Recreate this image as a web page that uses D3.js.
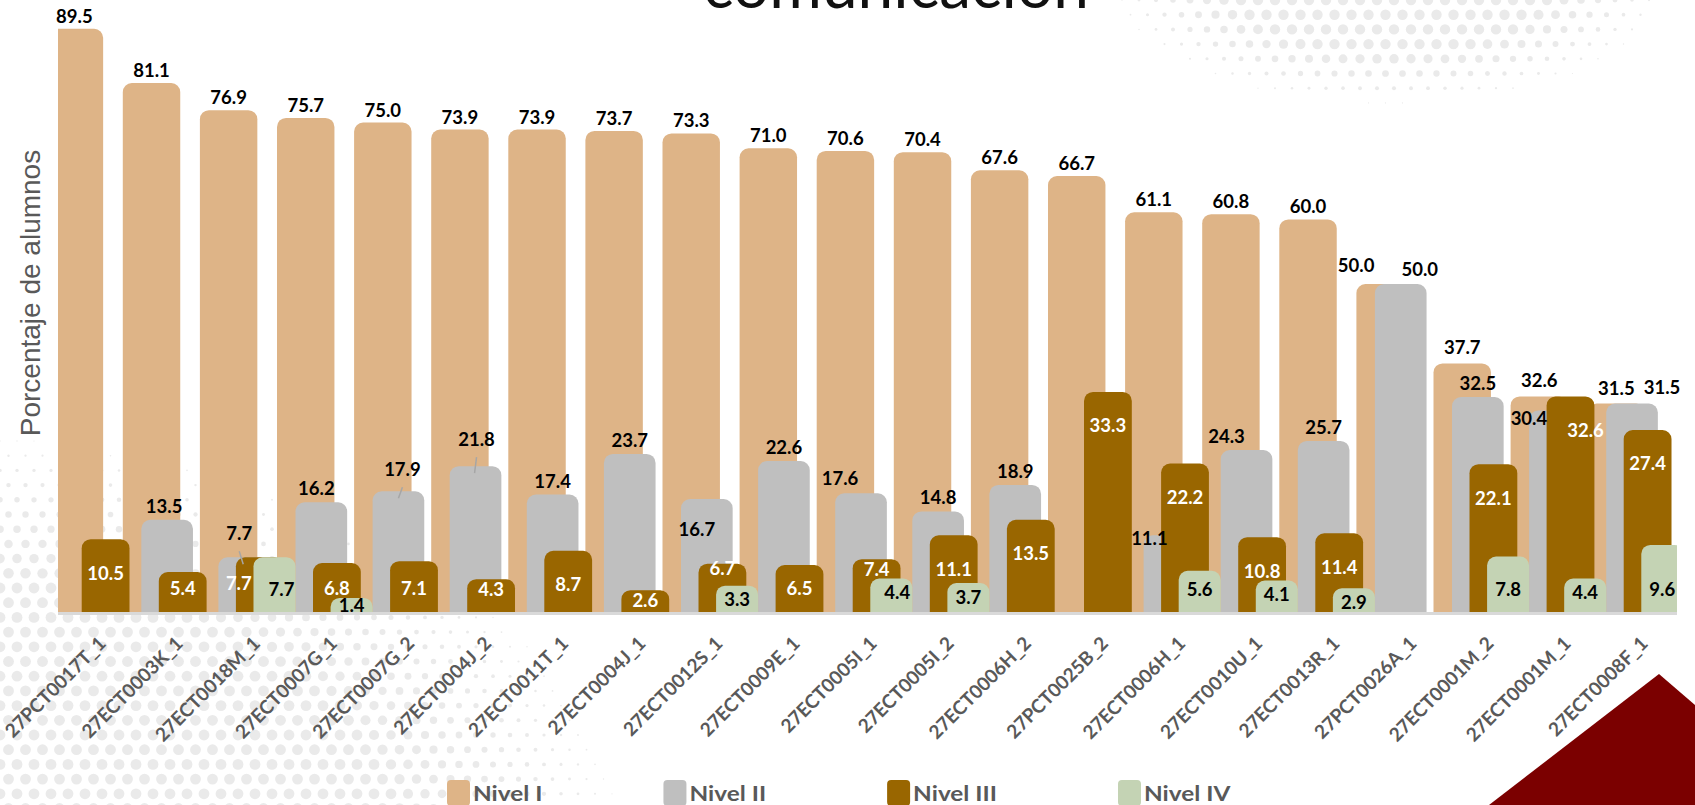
<!DOCTYPE html>
<html>
<head>
<meta charset="utf-8">
<script src="https://cdn.jsdelivr.net/npm/d3@7"></script>
<style>
  html, body { margin: 0; padding: 0; background: #ffffff; }
  svg { display: block; }
</style>
</head>
<body>
<svg id="chart" width="1695" height="805"></svg>
<script>
// ---------------- DATA ----------------
const categories = [
  "27PCT0017T_1", "27ECT0003K_1", "27ECT0018M_1", "27ECT0007G_1", "27ECT0007G_2",
  "27ECT0004J_2", "27ECT0011T_1", "27ECT0004J_1", "27ECT0012S_1", "27ECT0009E_1",
  "27ECT0005I_1", "27ECT0005I_2", "27ECT0006H_2", "27PCT0025B_2", "27ECT0006H_1",
  "27ECT0010U_1", "27ECT0013R_1", "27PCT0026A_1", "27ECT0001M_2", "27ECT0001M_1",
  "27ECT0008F_1"
];
const nivelI   = [89.5, 81.1, 76.9, 75.7, 75.0, 73.9, 73.9, 73.7, 73.3, 71.0, 70.6, 70.4, 67.6, 66.7, 61.1, 60.8, 60.0, 50.0, 37.7, 32.6, 31.5];
const nivelII  = [null, 13.5, 7.7, 16.2, 17.9, 21.8, 17.4, 23.7, 16.7, 22.6, 17.6, 14.8, 18.9, null, 11.1, 24.3, 25.7, 50.0, 32.5, 30.4, 31.5];
const nivelIII = [10.5, 5.4, 7.7, 6.8, 7.1, 4.3, 8.7, 2.6, 6.7, 6.5, 7.4, 11.1, 13.5, 33.3, 22.2, 10.8, 11.4, null, 22.1, 32.6, 27.4];
const nivelIV  = [null, null, 7.7, 1.4, null, null, null, null, 3.3, null, 4.4, 3.7, null, null, 5.6, 4.1, 2.9, null, 7.8, 4.4, 9.6];
const seriesNames = ["Nivel I", "Nivel II", "Nivel III", "Nivel IV"];
const yAxisTitle = "Porcentaje de alumnos";
const titleText = "comunicación";

// ---------------- LAYOUT / STYLE ----------------
const W = 1695, H = 805;
const colors = ["#DEB487", "#BFBFBF", "#996600", "#C4D3B4"];
const labelColors = ["#000000", "#000000", "#ffffff", "#000000"];
const seriesOffset = [0, 0.24, 0.467, 0.695];   // fraction of band
const seriesWidth  = [0.745, 0.67, 0.62, 0.545]; // fraction of band
const barRadius = 9;
const plotLeft = 58, plotRight = 1677, baseY = 612;

// label nudges (layout only), keyed by series index -> category index
const nudges = [
  {17: {dx: -29, dy: -6}, 18: {dy: -3}, 19: {dy: -3}, 20: {dy: -3}},
  {1: {dx: -3}, 2: {dx: -5, dy: -10, lead: 4}, 3: {dx: -5}, 4: {dx: 4, dy: -8, lead: -4},
   5: {dx: 1, dy: -13, lead: -2}, 8: {dx: -10, dy: 44}, 10: {dx: -21, dy: -1},
   14: {dx: -20, dy: 17}, 15: {dx: -20}, 17: {dx: 19, dy: -1}, 19: {dx: -26, dy: 21}, 20: {dx: 30, dy: -3}},
  {2: {dx: -21, dy: -5}, 8: {dy: -20}, 10: {dy: -19}, 19: {dx: 15}},
  {2: {dx: 7}, 10: {dx: 6}}
];

const svg = d3.select("#chart");

const x = d3.scaleBand().domain(categories).range([45.7, 45.7 + 21 * 77.1]).padding(0);
const y = d3.scaleLinear().domain([0, 90]).range([607, 607 - 90 * 6.46]);
const bw = x.bandwidth();

// ---------------- BACKGROUND HALFTONE ----------------
const dotsG = svg.append("g");
const dots = [];
const sp = 17, rowH = 14.7;
for (let row = 0; row * rowH < H + 10; row++) {
  const yy = row * rowH;
  for (let col = -1; col * sp < W + 10; col++) {
    const xx = col * sp + (row % 2 ? sp / 2 : 0);
    // bottom-left cloud
    let q1 = Math.sqrt(Math.pow((xx + 50) / 700, 2) + Math.pow((yy - 860) / 440, 2));
    let r1 = 5.4 * Math.max(0, Math.min(1, (1 - q1) / 0.35));
    // top-right cloud
    let q2 = Math.sqrt(Math.pow((xx - 1390) / 290, 2) + Math.pow((yy + 15) / 125, 2));
    let r2 = 5.2 * Math.max(0, Math.min(1, (1 - q2) / 0.45));
    const r = Math.max(r1, r2);
    if (r > 0.6) dots.push({x: xx, y: yy, r});
  }
}
dotsG.selectAll("circle").data(dots).join("circle")
  .attr("cx", d => d.x).attr("cy", d => d.y).attr("r", d => d.r)
  .attr("fill", "#eaeaea");

// dark red corner triangle
svg.append("path")
  .attr("d", "M1489,805 L1659,674 L1695,705 L1695,805 Z")
  .attr("fill", "#7B0000");

// ---------------- TITLE ----------------
svg.append("text")
  .attr("x", 896).attr("y", 8)
  .attr("text-anchor", "middle")
  .attr("font-family", "Lato, sans-serif")
  .attr("font-size", 64)
  .attr("fill", "#111")
  .text(titleText);

// ---------------- BARS ----------------
svg.append("clipPath").attr("id", "plotClip")
  .append("rect").attr("x", plotLeft).attr("y", 0)
  .attr("width", plotRight - plotLeft).attr("height", baseY + 1);

function roundTop(x0, yTop, w, yBot, r) {
  const h = yBot - yTop;
  r = Math.max(0, Math.min(r, h, w / 2));
  return `M${x0},${yBot} L${x0},${yTop + r} A${r},${r} 0 0 1 ${x0 + r},${yTop} ` +
         `L${x0 + w - r},${yTop} A${r},${r} 0 0 1 ${x0 + w},${yTop + r} L${x0 + w},${yBot} Z`;
}

const allSeries = [nivelI, nivelII, nivelIII, nivelIV];
const barsG = svg.append("g").attr("clip-path", "url(#plotClip)");
allSeries.forEach((vals, s) => {
  const data = categories.map((c, i) => ({c, i, v: vals[i]})).filter(d => d.v != null);
  barsG.append("g").selectAll("path").data(data).join("path")
    .attr("d", d => roundTop(x(d.c) + seriesOffset[s] * bw, y(d.v), seriesWidth[s] * bw, baseY, barRadius))
    .attr("fill", colors[s]);
});

// baseline
svg.append("line")
  .attr("x1", plotLeft).attr("x2", plotRight)
  .attr("y1", baseY + 1.5).attr("y2", baseY + 1.5)
  .attr("stroke", "#D9D9D9").attr("stroke-width", 3);

// ---------------- DATA LABELS ----------------
const labG = svg.append("g")
  .attr("font-family", "Lato, sans-serif")
  .attr("font-weight", "bold")
  .attr("font-size", 18.5);

allSeries.forEach((vals, s) => {
  categories.forEach((c, i) => {
    const v = vals[i];
    if (v == null) return;
    const n = nudges[s][i] || {};
    const cx = x(c) + (seriesOffset[s] + seriesWidth[s] / 2) * bw;
    const top = y(v);
    let lx = cx + (n.dx || 0), ly;
    if (s === 0) ly = top - 6;
    else if (s === 1) ly = top - 7;
    else if (s === 2) ly = Math.min(top + 34, Math.max(588, top + 10)) + 6.5;
    else ly = Math.min(605, Math.max(589, top + 14)) + 6.5;
    ly += (n.dy || 0);
    labG.append("text")
      .attr("x", lx).attr("y", ly)
      .attr("text-anchor", "middle")
      .attr("fill", labelColors[s])
      .text(v.toFixed(1));
    if (n.lead != null) {
      labG.append("line")
        .attr("x1", lx).attr("y1", ly + 11)
        .attr("x2", lx + n.lead).attr("y2", top + 7)
        .attr("stroke", "#A6A6A6").attr("stroke-width", 1.5);
    }
  });
});

// ---------------- X AXIS LABELS ----------------
const xAxisG = svg.append("g")
  .attr("font-family", "Lato, sans-serif")
  .attr("font-weight", "bold")
  .attr("font-size", 19)
  .attr("fill", "#595959");
xAxisG.selectAll("text").data(categories).join("text")
  .attr("transform", d => `translate(${x(d) + 0.735 * bw},${640}) rotate(-45)`)
  .attr("text-anchor", "end")
  .attr("dy", "0.35em")
  .text(d => d);

// ---------------- Y AXIS TITLE ----------------
svg.append("text")
  .attr("transform", `translate(40,293) rotate(-90)`)
  .attr("text-anchor", "middle")
  .attr("font-family", "'Liberation Sans', Arial, sans-serif")
  .attr("font-size", 28)
  .attr("fill", "#595959")
  .text(yAxisTitle);

// ---------------- LEGEND ----------------
const legG = svg.append("g");
let lxPos = 447;
seriesNames.forEach((name, s) => {
  legG.append("rect")
    .attr("x", lxPos).attr("y", 780).attr("width", 23).attr("height", 26)
    .attr("rx", 4).attr("fill", colors[s]);
  const t = legG.append("text")
    .attr("transform", `translate(${lxPos + 26},801) scale(1.16,1)`)
    .attr("font-family", "Lato, sans-serif")
    .attr("font-weight", "bold")
    .attr("font-size", 21)
    .attr("fill", "#595959")
    .text(name);
  const tw = t.node().getComputedTextLength() * 1.16;
  lxPos += 26 + tw + 121;
});
</script>
</body>
</html>
